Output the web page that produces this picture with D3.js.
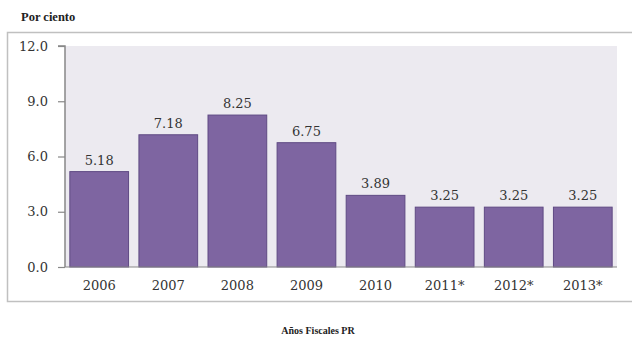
<!DOCTYPE html>
<html><head><meta charset="utf-8">
<script src="https://cdn.jsdelivr.net/npm/d3@7"></script>
<style>body{margin:0;background:#fff;}svg{display:block;}</style>
</head><body>
<svg id="c" width="632" height="337"></svg>
<script>
const categories = ["2006","2007","2008","2009","2010","2011*","2012*","2013*"];
const values = [5.18, 7.18, 8.25, 6.75, 3.89, 3.25, 3.25, 3.25];
const yTicks = [0, 3, 6, 9, 12];
const yTitle = "Por ciento";
const xTitle = "Años Fiscales PR";

(function () {
const svg = d3.select("#c");
const serif = "'DejaVu Serif', serif";
const pL = 65, pR = 617, pT = 46, pB = 267;

// outer frame
svg.append("rect").attr("x", 7.5).attr("y", 32.5).attr("width", 640).attr("height", 269)
  .attr("fill", "none").attr("stroke", "#c0c0c0").attr("stroke-width", 1.5);

svg.append("text").attr("x", 21).attr("y", 21).attr("font-family", "'Liberation Serif', serif")
  .attr("font-weight", "bold").attr("font-size", 12.5).attr("fill", "#222").text(yTitle);

const x = d3.scaleBand().domain(categories).range([pL, pR]).paddingInner(0.15).paddingOuter(0.07);
const y = d3.scaleLinear().domain([0, 12]).range([pB, pT]);

svg.append("rect").attr("x", pL).attr("y", pT).attr("width", pR - pL).attr("height", pB - pT)
  .attr("fill", "#ECEAF0");

svg.selectAll("rect.bar").data(values).join("rect").attr("class", "bar")
  .attr("x", (d, i) => x(categories[i]))
  .attr("y", d => y(d))
  .attr("width", x.bandwidth())
  .attr("height", d => y(0) - y(d))
  .attr("fill", "#7E65A1").attr("stroke", "#5F4A83").attr("stroke-width", 1);

svg.selectAll("text.val").data(values).join("text").attr("class", "val")
  .attr("x", (d, i) => x(categories[i]) + x.bandwidth() / 2)
  .attr("y", d => y(d) - 7)
  .attr("text-anchor", "middle").attr("font-family", serif).attr("font-size", 13).attr("fill", "#333")
  .text(d => d.toFixed(2));

const yAxis = svg.append("g").attr("transform", `translate(${pL},0)`)
  .call(d3.axisLeft(y).tickValues(yTicks).tickFormat(d3.format(".1f")).tickSize(7).tickPadding(10));
yAxis.select(".domain").attr("stroke", "#888").attr("stroke-width", 1.5).attr("d", `M-7,${pT}H0V${pB}`);
yAxis.selectAll(".tick line").attr("stroke", "#888").attr("stroke-width", 1.2);
yAxis.selectAll("text").attr("font-family", serif).attr("font-size", 13).attr("fill", "#333");

const xAxis = svg.append("g").attr("transform", `translate(0,${pB})`)
  .call(d3.axisBottom(x).tickSize(0).tickPadding(14));
xAxis.select(".domain").attr("stroke", "#888").attr("stroke-width", 1.2).attr("d", `M${pL},0H${pR}`);
xAxis.selectAll("text").attr("font-family", serif).attr("font-size", 13).attr("fill", "#333");

svg.append("text").attr("x", 318).attr("y", 334).attr("text-anchor", "middle")
  .attr("font-family", "'Liberation Serif', serif").attr("font-weight", "bold").attr("font-size", 10)
  .attr("fill", "#222").text(xTitle);
})();
</script>
</body></html>
